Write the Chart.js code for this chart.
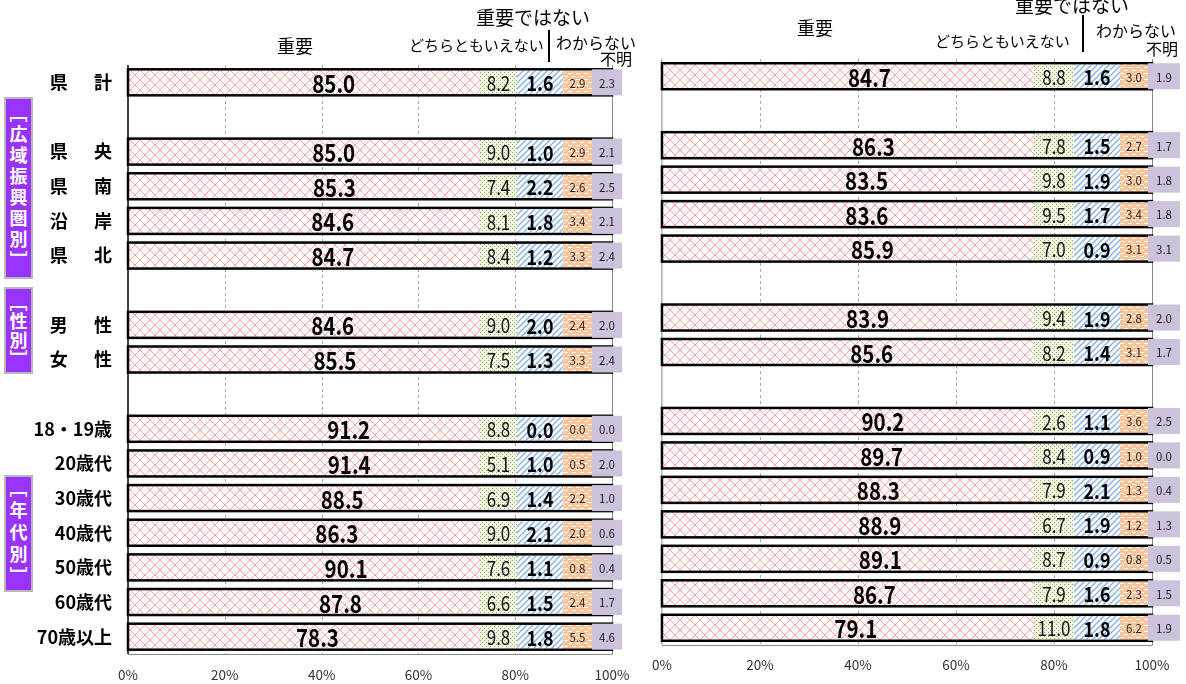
<!DOCTYPE html>
<html><head><meta charset="utf-8">
<script src="https://cdn.jsdelivr.net/npm/chart.js@4"></script>
<style>
body{margin:0;width:1186px;height:684px;overflow:hidden;background:#fff;font-family:"Noto Sans CJK JP",sans-serif;position:relative}
.c{position:absolute;top:0}
.t{position:absolute;white-space:nowrap;color:#000;line-height:1}
.vl{position:absolute;width:2px;background:#000}
.grp{position:absolute;left:4px;width:29px;background:#9933FF;border:2px solid #b8b8b8;box-sizing:border-box;color:#fff;font-weight:bold;font-size:18px;writing-mode:vertical-rl;display:flex;align-items:center;justify-content:center;line-height:1}
</style></head><body>
<div class="c" style="left:0;width:650px;height:684px"><canvas id="a" width="650" height="684"></canvas></div>
<div class="c" style="left:640px;width:546px;height:684px"><canvas id="b" width="546" height="684"></canvas></div>

<div class="t" style="left:277px;top:36px;font-size:18px">重要</div>
<div class="t" style="left:409px;top:37px;font-size:15px">どちらともいえない</div>
<div class="t" style="left:476px;top:7px;font-size:19px">重要ではない</div>
<div class="vl" style="left:548px;top:30px;height:32px"></div>
<div class="t" style="left:556px;top:34px;font-size:16px">わからない</div>
<div class="t" style="left:600px;top:50px;font-size:16px">不明</div>

<div class="t" style="left:797px;top:18px;font-size:18px">重要</div>
<div class="t" style="left:935px;top:33px;font-size:15px">どちらともいえない</div>
<div class="t" style="left:1015px;top:-5px;font-size:19px">重要ではない</div>
<div class="vl" style="left:1082px;top:15px;height:37px"></div>
<div class="t" style="left:1096px;top:22px;font-size:16px">わからない</div>
<div class="t" style="left:1146px;top:40px;font-size:16px">不明</div>

<div class="grp" style="top:97px;height:182px;letter-spacing:3px">［広域振興圏別］</div>
<div class="grp" style="top:287px;height:87px;letter-spacing:1px">［性別］</div>
<div class="grp" style="top:475px;height:117px;letter-spacing:4px">［年代別］</div>

<script>
// ---- data ----
const categories = ['県　  計','','県　  央','県　  南','沿　  岸','県　  北','','男　  性','女　  性','','18・19歳','20歳代','30歳代','40歳代','50歳代','60歳代','70歳以上'];
const seriesNames = ['重要','どちらともいえない','重要ではない','わからない','不明'];
const xTickValues = [0,20,40,60,80,100];

const leftImportant   = [85.0,null,85.0,85.3,84.6,84.7,null,84.6,85.5,null,91.2,91.4,88.5,86.3,90.1,87.8,78.3];
const leftNeither     = [8.2,null,9.0,7.4,8.1,8.4,null,9.0,7.5,null,8.8,5.1,6.9,9.0,7.6,6.6,9.8];
const leftNotImportant= [1.6,null,1.0,2.2,1.8,1.2,null,2.0,1.3,null,0.0,1.0,1.4,2.1,1.1,1.5,1.8];
const leftDontKnow    = [2.9,null,2.9,2.6,3.4,3.3,null,2.4,3.3,null,0.0,0.5,2.2,2.0,0.8,2.4,5.5];
const leftUnknown     = [2.3,null,2.1,2.5,2.1,2.4,null,2.0,2.4,null,0.0,2.0,1.0,0.6,0.4,1.7,4.6];

const rightImportant   = [84.7,null,86.3,83.5,83.6,85.9,null,83.9,85.6,null,90.2,89.7,88.3,88.9,89.1,86.7,79.1];
const rightNeither     = [8.8,null,7.8,9.8,9.5,7.0,null,9.4,8.2,null,2.6,8.4,7.9,6.7,8.7,7.9,11.0];
const rightNotImportant= [1.6,null,1.5,1.9,1.7,0.9,null,1.9,1.4,null,1.1,0.9,2.1,1.9,0.9,1.6,1.8];
const rightDontKnow    = [3.0,null,2.7,3.0,3.4,3.1,null,2.8,3.1,null,3.6,1.0,1.3,1.2,0.8,2.3,6.2];
const rightUnknown     = [1.9,null,1.7,1.8,1.8,3.1,null,2.0,1.7,null,2.5,0.0,0.4,1.3,0.5,1.5,1.9];

// ---- fills ----
function tile(w,h,draw){const c=document.createElement('canvas');c.width=w;c.height=h;const g=c.getContext('2d');draw(g,w,h);return document.createElement('canvas').getContext('2d').createPattern(c,'repeat');}
const fills = [
  tile(10,10,(g,w,h)=>{g.fillStyle='#fff';g.fillRect(0,0,w,h);g.strokeStyle='#FFA3A3';g.lineWidth=1;g.beginPath();g.moveTo(0,0);g.lineTo(w,h);g.moveTo(w,0);g.lineTo(0,h);g.stroke();}),
  tile(4,4,(g,w,h)=>{g.fillStyle='#F1F6E6';g.fillRect(0,0,w,h);g.fillStyle='#8DB34A';g.fillRect(0,0,1,1);g.fillRect(2,2,1,1);}),
  tile(6,6,(g,w,h)=>{g.fillStyle='#fff';g.fillRect(0,0,w,h);g.strokeStyle='#8CB3E2';g.lineWidth=1.5;g.beginPath();g.moveTo(-1,7);g.lineTo(7,-1);g.moveTo(-1,1);g.lineTo(1,-1);g.moveTo(5,7);g.lineTo(7,5);g.stroke();}),
  tile(8,6,(g,w,h)=>{g.fillStyle='#FAC59A';g.fillRect(0,0,w,h);g.fillStyle='#fff';g.fillRect(0,1,4,1);g.fillRect(4,4,4,1);}),
  '#CDC2DC'
];

function txt(ctx,s,x,y,font,sx,color){ctx.save();ctx.font=font;ctx.fillStyle=color||'#000';ctx.textAlign='center';ctx.textBaseline='middle';ctx.translate(x,y);ctx.scale(sx,1);ctx.fillText(s,0,1);ctx.restore();}

const overlay = (opt)=>({
  id:'ov',
  beforeDatasetsDraw(chart){
    const {ctx,chartArea:a,scales:{x}}=chart;
    ctx.save();
    ctx.lineWidth=1;
    ctx.strokeStyle='#a8a8a8';ctx.setLineDash([3,3]);
    [20,40,60,80].forEach(v=>{const p=Math.round(x.getPixelForValue(v))+0.5;ctx.beginPath();ctx.moveTo(p,a.top);ctx.lineTo(p,a.bottom);ctx.stroke();});
    ctx.setLineDash([]);
    ctx.strokeStyle='#888';
    const p100=Math.round(x.getPixelForValue(100))+0.5;
    ctx.beginPath();ctx.moveTo(p100,a.top);ctx.lineTo(p100,a.bottom);ctx.stroke();
    ctx.beginPath();ctx.moveTo(a.left,a.bottom+0.5);ctx.lineTo(p100,a.bottom+0.5);ctx.stroke();
    ctx.strokeStyle=opt.zeroColor;ctx.lineWidth=opt.zeroWidth;
    const p0=x.getPixelForValue(0);
    ctx.beginPath();ctx.moveTo(p0,a.top);ctx.lineTo(p0,a.bottom);ctx.stroke();
    ctx.restore();
  },
  afterDatasetsDraw(chart){
    const {ctx,scales:{x,y}}=chart;
    const ds=chart.data.datasets;
    const x0=x.getPixelForValue(0), x100=x.getPixelForValue(100);
    ctx.save();
    categories.forEach((c,i)=>{
      if(ds[0].data[i]==null) return;
      const el=chart.getDatasetMeta(0).data[i];
      const yc=y.getPixelForValue(i), h=el.height;
      ctx.lineWidth=2.5;ctx.strokeStyle='#000';
      ctx.strokeRect(x0,yc-h/2,x100-x0,h);
      txt(ctx,ds[0].data[i].toFixed(1),(el.x+el.base)/2,yc,'bold 25px "Noto Sans CJK JP"',0.82);
      let right=x100+opt.boxR;
      for(let k=4;k>=1;k--){
        const w=opt.boxW[k];
        const left=right-w;
        const top=k===4?yc-h/2:yc-h/2+1.5, bh=k===4?h:h-3;
        ctx.fillStyle=ds[k].backgroundColor;
        ctx.fillRect(left,top,w,bh);
        const v=ds[k].data[i].toFixed(1);
        if(k===1) txt(ctx,v,left+w/2,yc,'20px "Noto Sans CJK JP"',0.85,'#111');
        else if(k===2) txt(ctx,v,left+w/2,yc,'bold 21px "Noto Sans CJK JP"',0.85);
        else txt(ctx,v,left+w/2,yc,'11.5px "Noto Sans CJK JP"',1,'#222');
        right=left;
      }
    });
    ctx.restore();
  }
});

function build(id,vals,opt){
  return new Chart(document.getElementById(id),{
    type:'bar',
    data:{labels:categories,datasets:seriesNames.map((n,i)=>({label:n,data:vals[i],backgroundColor:fills[i],borderWidth:0,barThickness:26}))},
    options:{
      indexAxis:'y',responsive:false,animation:false,
      layout:{padding:{left:opt.padL,right:opt.padR,top:opt.padT,bottom:0}},
      plugins:{legend:{display:false},tooltip:{enabled:false}},
      scales:{
        x:{stacked:true,min:0,max:100,afterBuildTicks:s=>{s.ticks=xTickValues.map(v=>({value:v}));},
           ticks:{callback:v=>v+'%',font:{size:13.5,family:'"Noto Sans CJK JP"'},color:'#333',padding:opt.tickPad,maxRotation:0},
           grid:{display:false,drawTicks:false},border:{display:false},afterFit:s=>{s.height=opt.xH;}},
        y:{stacked:true,display:opt.showY,afterFit:s=>{s.width=opt.yW;},
           ticks:{font:{size:18,weight:'bold',family:'"Noto Sans CJK JP"'},color:'#000',padding:opt.yPad,autoSkip:false},
           grid:{display:false,drawTicks:false},border:{display:false}}
      }
    },
    plugins:[overlay(opt)]
  });
}

build('a',[leftImportant,leftNeither,leftNotImportant,leftDontKnow,leftUnknown],
  {padL:0,padR:38,padT:65,xH:30,tickPad:13,showY:true,yW:128,yPad:16,zeroColor:'#000',zeroWidth:1.5,boxR:10,boxW:[0,37,46,29,30]});
build('b',[rightImportant,rightNeither,rightNotImportant,rightDontKnow,rightUnknown],
  {padL:13,padR:34,padT:59,xH:39,tickPad:12,showY:false,yW:0,yPad:0,zeroColor:'#888',zeroWidth:1,boxR:28,boxW:[0,40,46,28,32]});
</script>
</body></html>
